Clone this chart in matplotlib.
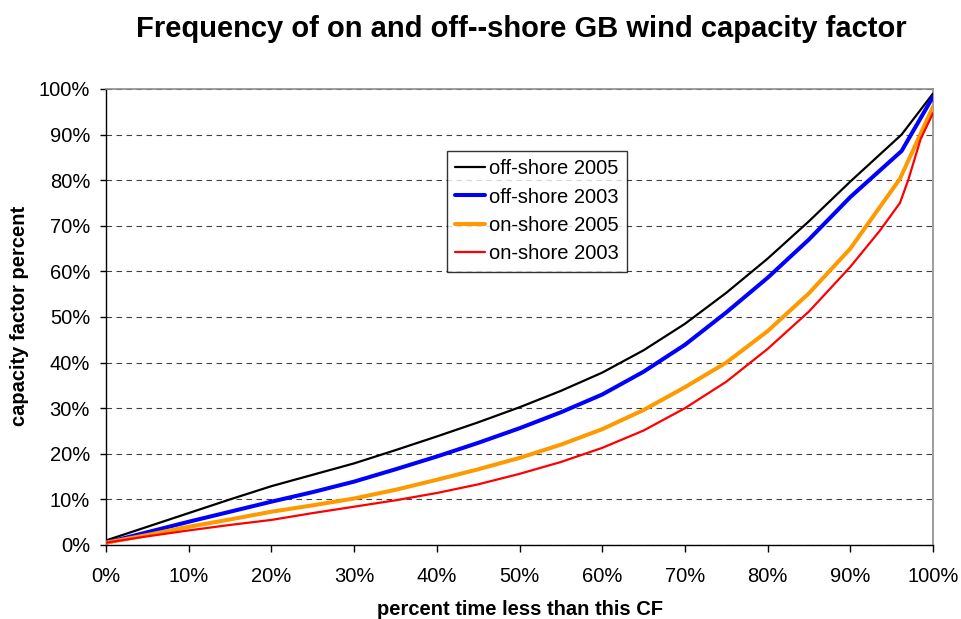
import matplotlib
matplotlib.use("Agg")
import matplotlib.pyplot as plt
from matplotlib.ticker import FuncFormatter, MultipleLocator

plt.rcParams['font.family'] = ['Liberation Sans', 'DejaVu Sans']

title = "Frequency of on and off--shore GB wind capacity factor"
xlabel = "percent time less than this CF"
ylabel = "capacity factor percent"

off2005_x = [0, 5, 10, 15, 20, 25, 30, 35, 40, 45, 50, 55, 60, 65, 70, 75, 80, 85, 90, 96.2, 100]
off2005_y = [1.0, 4.0, 7.0, 10.0, 12.9, 15.4, 17.9, 20.8, 23.8, 26.9, 30.2, 33.8, 37.8, 42.7, 48.5, 55.3, 62.8, 71.0, 79.7, 90.0, 99.0]

off2003_x = [0, 5, 10, 15, 20, 25, 30, 35, 40, 45, 50, 55, 60, 65, 70, 75, 80, 85, 90, 96.2, 100]
off2003_y = [0.5, 2.8, 5.1, 7.3, 9.5, 11.6, 13.9, 16.6, 19.4, 22.4, 25.6, 29.1, 33.0, 38.0, 43.9, 51.0, 58.6, 67.0, 76.3, 86.4, 98.3]

on2005_x = [0, 5, 10, 15, 20, 25, 30, 35, 40, 45, 50, 55, 60, 65, 70, 75, 80, 85, 90, 96, 100]
on2005_y = [0.5, 2.2, 4.0, 5.6, 7.3, 8.7, 10.2, 12.1, 14.3, 16.6, 19.1, 22.0, 25.4, 29.6, 34.6, 40.0, 46.9, 55.2, 65.0, 80.3, 96.1]

on2003_x = [0, 5, 10, 15, 20, 25, 30, 35, 40, 45, 50, 55, 60, 65, 70, 75, 80, 85, 90, 93.6, 96, 97, 98.5, 100]
on2003_y = [0.5, 1.9, 3.2, 4.4, 5.5, 7.0, 8.4, 9.8, 11.4, 13.3, 15.6, 18.2, 21.3, 25.1, 30.0, 35.8, 43.0, 51.2, 61.0, 69.0, 75.0, 80.0, 89.0, 94.7]

series = [
    ("off-shore 2005", off2005_x, off2005_y, "#000000", 1.6),
    ("off-shore 2003", off2003_x, off2003_y, "#0000FF", 2.9),
    ("on-shore 2005", on2005_x, on2005_y, "#FF9900", 2.9),
    ("on-shore 2003", on2003_x, on2003_y, "#FF0000", 1.6),
]

fig = plt.figure(figsize=(9.62, 6.19), dpi=100)
ax = fig.add_axes([106/962, 1-545/619, (933-106)/962, (545-89)/619])

for name, xs, ys, c, lw in series:
    ax.plot([v/100 for v in xs], [v/100 for v in ys], color=c, lw=lw, label=name,
            solid_joinstyle='round', solid_capstyle='round', zorder=3)

ax.set_xlim(0, 1)
ax.set_ylim(0, 1)
ax.xaxis.set_major_locator(MultipleLocator(0.1))
ax.yaxis.set_major_locator(MultipleLocator(0.1))
pct = FuncFormatter(lambda v, p: f"{round(v*100):d}%")
ax.xaxis.set_major_formatter(pct)
ax.yaxis.set_major_formatter(pct)
ax.tick_params(axis='both', direction='out', width=1, labelsize=14.5, colors='black')
ax.tick_params(axis='x', length=5, pad=11)
ax.tick_params(axis='y', length=4.5, pad=7)

ax.yaxis.grid(True, color='#000000', lw=0.8, linestyle=(0, (5, 4)), alpha=0.75)
ax.set_axisbelow(True)

for s in ['left', 'bottom']:
    ax.spines[s].set_color('black')
    ax.spines[s].set_linewidth(1.0)
for s in ['top', 'right']:
    ax.spines[s].set_color('#8c8c8c')
    ax.spines[s].set_linewidth(1.2)

fig.text(520/962, 1-615/619, xlabel, fontsize=14.5, fontweight='bold', ha='center', va='baseline')
fig.text(20/962, 1-315.5/619, ylabel, fontsize=14.5, fontweight='bold', ha='center', va='center',
         rotation=90)
fig.text(521/962, 1-29/619, title, fontsize=21, fontweight='bold', ha='center', va='center')

leg = ax.legend(loc='upper left', bbox_to_anchor=((447-106)/827, (545-151)/456),
                fontsize=14.5, frameon=True, fancybox=False, edgecolor='black',
                borderpad=0.4, labelspacing=0.47, handlelength=1.5, handletextpad=0.2,
                borderaxespad=0)
leg.get_frame().set_linewidth(1.0)

fig.savefig("out.png", dpi=100)
